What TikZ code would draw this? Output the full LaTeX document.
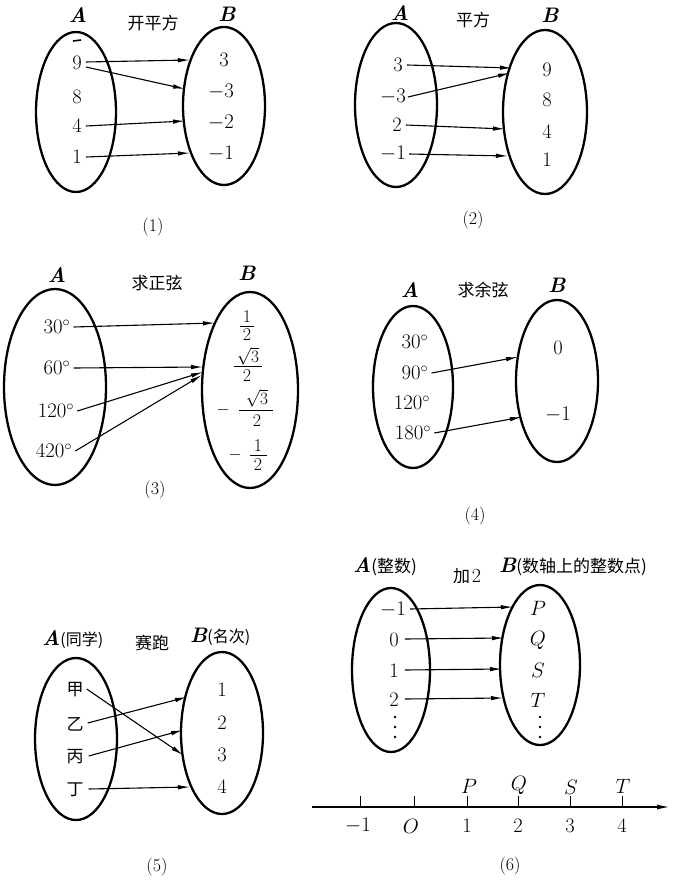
\documentclass[tikz,border=0pt]{standalone}
\usepackage{amsmath}
\usepackage{fontspec}
\newfontfamily\cjk{Noto Sans CJK SC}
\usetikzlibrary{shapes.geometric,arrows.meta}
\begin{document}
\begin{tikzpicture}[x=1pt,y=-1pt,
  setov/.style={draw, ellipse, line width=2.3pt, inner sep=0pt},
  el/.style={font=\fontsize{20.5}{22}\selectfont, inner sep=1pt},
  frn/.style={font=\fontsize{18}{19}\selectfont, inner sep=0pt},
  fbar/.style={line width=0.9pt},
  cj/.style={font=\fontsize{17}{19}\selectfont\cjk, inner sep=0pt},
  lab/.style={font=\fontsize{21}{22}\selectfont\bfseries\itshape, inner sep=0pt},
  captxt/.style={font=\fontsize{18}{20}\selectfont, inner sep=0pt},
  arr/.style={-{Latex[length=12pt,width=4.5pt]}, line width=1.1pt},
  dotm/.style={circle, fill, inner sep=0pt, minimum size=2.6pt},
  tickmk/.style={line width=1pt}]
\useasboundingbox (0,0) rectangle (677,885);

% ---------- Panel 1 ----------
\node[setov, minimum width=80pt, minimum height=160pt] (A1) at (76,112) {};
\node[setov, minimum width=82pt, minimum height=158pt] (B1) at (224,106) {};
\node[lab] (LA1) at (78,15) {A};
\node[lab] (LB1) at (227,14) {B};
\node[cj] (F1) at (153,23) {开平方};
\draw[line width=1.6pt] (73,41) -- (81,40);
\node[el] (a19) at (77,63) {9};
\node[el] (a18) at (77,97) {8};
\node[el] (a14) at (77,126) {4};
\node[el] (a11) at (77,157) {1};
\node[el] (b13) at (224,60) {3};
\node[el] (b1m3) at (221,92) {$-3$};
\node[el] (b1m2) at (221,123) {$-2$};
\node[el] (b1m1) at (221,154) {$-1$};
\coordinate (t1a) at (190,60);
\coordinate (t1b) at (185,89);
\coordinate (t1c) at (185,121);
\coordinate (t1d) at (190,153);
\draw[arr] ([xshift=3pt,yshift=1pt]a19.east) -- (t1a);
\draw[arr] ([xshift=3pt,yshift=-4pt]a19.east) -- (t1b);
\draw[arr] ([xshift=3pt]a14.east) -- (t1c);
\draw[arr] ([xshift=3pt]a11.east) -- (t1d);
\node[captxt] (C1) at (153,227) {(1)};

% ---------- Panel 2 ----------
\node[setov, minimum width=82pt, minimum height=164pt] (A2) at (396,105) {};
\node[setov, minimum width=84pt, minimum height=164pt] (B2) at (545,112) {};
\node[lab] (LA2) at (400,13) {A};
\node[lab] (LB2) at (550,15) {B};
\node[cj] (F2) at (473,20) {平方};
\node[el] (a23) at (398,65) {3};
\node[el] (a2m3) at (393,97) {$-3$};
\node[el] (a22) at (397,125) {2};
\node[el] (a2m1) at (393,154) {$-1$};
\node[el] (b29) at (547,70) {9};
\node[el] (b28) at (547,100) {8};
\node[el] (b24) at (547,132) {4};
\node[el] (b21) at (547,160) {1};
\coordinate (t2a) at (512,68);
\coordinate (t2b) at (510,73);
\coordinate (t2c) at (505,129);
\coordinate (t2d) at (508,156);
\draw[arr] ([xshift=3pt]a23.east) -- (t2a);
\draw[arr] ([xshift=1pt]a2m3.east) -- (t2b);
\draw[arr] ([xshift=3pt]a22.east) -- (t2c);
\draw[arr] ([xshift=2pt]a2m1.east) -- (t2d);
\node[captxt] (C2) at (473,220) {(2)};

% ---------- Panel 3 ----------
\node[setov, minimum width=102pt, minimum height=196pt] (A3) at (55,387) {};
\node[setov, minimum width=96pt, minimum height=196pt] (B3) at (250,390) {};
\node[lab] (LA3) at (57,275) {A};
\node[lab] (LB3) at (247,273) {B};
\node[cj] (F3) at (157,283) {求正弦};
\node[el] (a330) at (57,327) {$30^\circ$};
\node[el] (a360) at (57,368) {$60^\circ$};
\node[el] (a3120) at (56,411) {$120^\circ$};
\node[el] (a3420) at (54,451) {$420^\circ$};
% 1/2
\node[frn] (f1n) at (247,317) {1};
\draw[fbar] (240,326.5) -- (254,326.5);
\node[frn] (f1d) at (247,335) {2};
% sqrt3/2
\node[frn] (f2n) at (248,356) {$\sqrt{3}$};
\draw[fbar] (234,366.5) -- (262,366.5);
\node[frn] (f2d) at (247,376) {2};
% -sqrt3/2
\node[frn] (f3m) at (223,410) {$-$};
\node[frn] (f3n) at (257,398) {$\sqrt{3}$};
\draw[fbar] (239,410) -- (273,410);
\node[frn] (f3d) at (257,421) {2};
% -1/2
\node[frn] (f4m) at (235,455) {$-$};
\node[frn] (f4n) at (258,446) {1};
\draw[fbar] (250,455.5) -- (267,455.5);
\node[frn] (f4d) at (258,465) {2};
\coordinate (t3a) at (215,323);
\coordinate (t3b) at (203,367);
\coordinate (t3c) at (203,372);
\coordinate (t3d) at (202,375);
\draw[arr] ([xshift=2pt]a330.east) -- (t3a);
\draw[arr] ([xshift=2pt]a360.east) -- (t3b);
\draw[arr] ([xshift=2pt]a3120.east) -- (t3c);
\draw[arr] ([xshift=2pt]a3420.east) -- (t3d);
\node[captxt] (C3) at (155,490) {(3)};

% ---------- Panel 4 ----------
\node[setov, minimum width=80pt, minimum height=162pt] (A4) at (413,387) {};
\node[setov, minimum width=82pt, minimum height=162pt] (B4) at (557,381) {};
\node[lab] (LA4) at (410,290) {A};
\node[lab] (LB4) at (557,285) {B};
\node[cj] (F4) at (483,290) {求余弦};
\node[el] (a430) at (415,342) {$30^\circ$};
\node[el] (a490) at (415,373) {$90^\circ$};
\node[el] (a4120) at (412,403) {$120^\circ$};
\node[el] (a4180) at (413,433) {$180^\circ$};
\node[el] (b40) at (558,348) {0};
\node[el] (b4m1) at (558,415) {$-1$};
\coordinate (t4a) at (518,357);
\coordinate (t4b) at (522,417);
\draw[arr] ([xshift=2pt]a490.east) -- (t4a);
\draw[arr] ([xshift=2pt]a4180.east) -- (t4b);
\node[captxt] (C4) at (475,516) {(4)};

% ---------- Panel 5 ----------
\node[setov, minimum width=82pt, minimum height=162pt] (A5) at (76,739) {};
\node[setov, minimum width=82pt, minimum height=162pt] (B5) at (222,733) {};
\node[anchor=west, inner sep=0pt] (LA5) at (42,640) {\fontsize{21}{22}\selectfont\bfseries\itshape A\fontsize{16}{18}\selectfont\cjk\upshape\mdseries (同学)};
\node[cj] (F5) at (152,643) {赛跑};
\node[anchor=west, inner sep=0pt] (LB5) at (190,637) {\fontsize{21}{22}\selectfont\bfseries\itshape B\fontsize{16}{18}\selectfont\cjk\upshape\mdseries (名次)};
\node[cj] (a5a) at (75,690) {甲};
\node[cj] (a5b) at (75,724) {乙};
\node[cj] (a5c) at (75,757) {丙};
\node[cj] (a5d) at (75,790) {丁};
\node[el] (b51) at (222,690) {1};
\node[el] (b52) at (222,723) {2};
\node[el] (b53) at (222,755) {3};
\node[el] (b54) at (222,787) {4};
\coordinate (t5a) at (183,755);
\coordinate (t5b) at (187,697);
\coordinate (t5c) at (183,730);
\coordinate (t5d) at (190,787);
\draw[arr] ([xshift=3pt,yshift=1pt]a5a.east) -- (t5a);
\draw[arr] ([xshift=4pt,yshift=1pt]a5b.east) -- (t5b);
\draw[arr] ([xshift=5pt,yshift=1pt]a5c.east) -- (t5c);
\draw[arr] ([xshift=5pt,yshift=1pt]a5d.east) -- (t5d);
\node[captxt] (C5) at (157,867) {(5)};

% ---------- Panel 6 ----------
\node[setov, minimum width=78pt, minimum height=164pt] (A6) at (391,670) {};
\node[setov, minimum width=80pt, minimum height=160pt] (B6) at (540,665) {};
\node[anchor=west, inner sep=0pt] (LA6) at (353,567) {\fontsize{21}{22}\selectfont\bfseries\itshape A\fontsize{17}{18}\selectfont\cjk\upshape\mdseries (整数)};
\node[inner sep=0pt] (F6) at (467,576) {{\fontsize{17}{19}\selectfont\cjk 加}\,{\fontsize{20}{22}\selectfont 2}};
\node[anchor=west, inner sep=0pt] (LB6) at (499,567) {\fontsize{21}{22}\selectfont\bfseries\itshape B\fontsize{17}{18}\selectfont\cjk\upshape\mdseries (数轴上的整数点)};
\node[el] (a6m1) at (393,610) {$-1$};
\node[el] (a60) at (394,640) {0};
\node[el] (a61) at (394,671) {1};
\node[el] (a62) at (394,700) {2};
\node[dotm] (a6d1) at (395,717) {};
\node[dotm] (a6d2) at (395,727) {};
\node[dotm] (a6d3) at (395,737) {};
\node[el] (b6P) at (538,608) {$P$};
\node[el] (b6Q) at (538,640) {$Q$};
\node[el] (b6S) at (538,670) {$S$};
\node[el] (b6T) at (538,700) {$T$};
\node[dotm] (b6d1) at (540,717) {};
\node[dotm] (b6d2) at (540,727) {};
\node[dotm] (b6d3) at (540,737) {};
\coordinate (t6a) at (513,607);
\coordinate (t6b) at (504,638);
\coordinate (t6c) at (502,669);
\coordinate (t6d) at (503,698);
\draw[arr] ([xshift=3pt,yshift=1pt]a6m1.east) -- (t6a);
\draw[arr] ([xshift=5pt,yshift=1pt]a60.east) -- (t6b);
\draw[arr] ([xshift=5pt,yshift=1pt]a61.east) -- (t6c);
\draw[arr] ([xshift=5pt,yshift=1pt]a62.east) -- (t6d);

% number line
\coordinate (nl0) at (312,807);
\coordinate (nl1) at (671,807);
\draw[line width=1.8pt, -{Latex[length=14pt,width=5pt]}] (nl0) -- (nl1);
\foreach \x/\nm in {360/m1,414/z,467/p1,518/p2,570/p3,622/p4}{
  \coordinate (tk\nm) at (\x,807);
  \draw[tickmk] (tk\nm) -- ++(0,-11);
}
\node[el] (nlm1) at (358,826) {$-1$};
\node[el] (nlz) at (411,826) {$O$};
\node[el] (nlp1) at (467,826) {1};
\node[el] (nlp2) at (518,826) {2};
\node[el] (nlp3) at (570,826) {3};
\node[el] (nlp4) at (622,826) {4};
\node[el] (nlP) at (469,786) {$P$};
\node[el] (nlQ) at (519,785) {$Q$};
\node[el] (nlS) at (571,787) {$S$};
\node[el] (nlT) at (623,786) {$T$};
\node[captxt] (C6) at (510,866) {(6)};
\end{tikzpicture}
\end{document}
